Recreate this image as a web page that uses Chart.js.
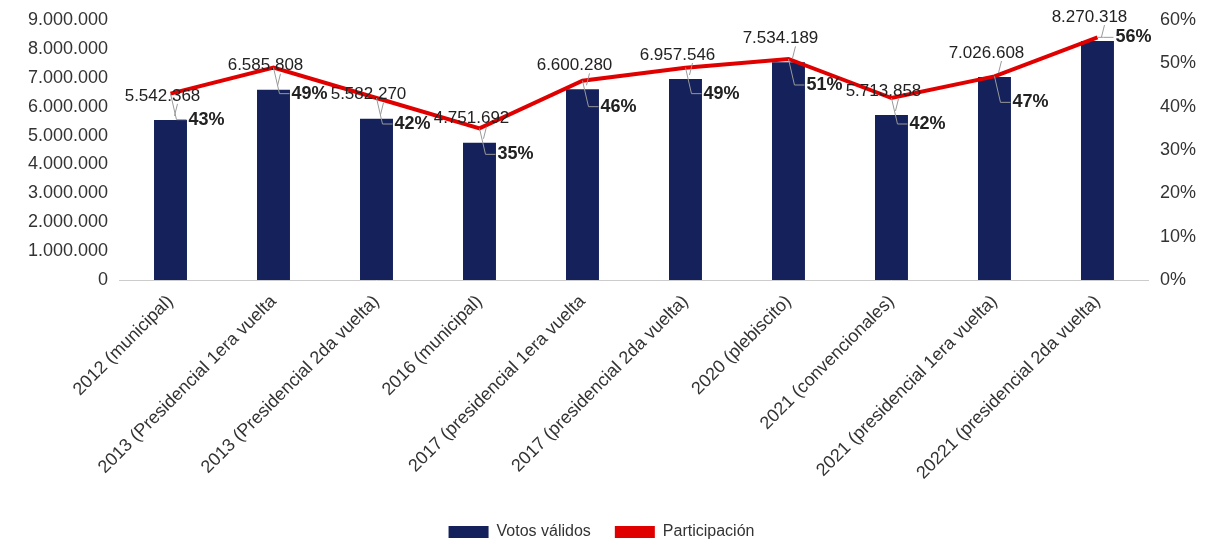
<!DOCTYPE html>
<html>
<head>
<meta charset="utf-8">
<script src="https://cdn.jsdelivr.net/npm/chart.js@4"></script>
<style>
  html, body { margin: 0; padding: 0; background: #fff; }
  #wrap { width: 1213px; height: 554px; }
</style>
</head>
<body>
<div id="wrap"><canvas id="chart"></canvas></div>
<script>
const categories = [
    '2012 (municipal)',
    '2013 (Presidencial 1era vuelta',
    '2013 (Presidencial 2da vuelta)',
    '2016 (municipal)',
    '2017 (presidencial 1era vuelta',
    '2017 (presidencial 2da vuelta)',
    '2020 (plebiscito)',
    '2021 (convencionales)',
    '2021 (presidencial 1era vuelta)',
    '20221 (presidencial 2da vuelta)'
];
const votosValidos = [5542368, 6585808, 5582270, 4751692, 6600280, 6957546, 7534189, 5713858, 7026608, 8270318];
const participacion = [43, 49, 42, 35, 46, 49, 51, 42, 47, 56];

const fmt = n => n.toString().replace(/\B(?=(\d{3})+(?!\d))/g, '.');

// etiquetas de datos con líneas guía
const labelPlugin = {
    id: 'labels',
    afterDatasetsDraw(chart) {
        const ctx = chart.ctx;
        const bars = chart.getDatasetMeta(0).data;
        const pts = chart.getDatasetMeta(1).data;
        ctx.save();
        bars.forEach((bar, i) => {
            const tx = bar.x - 8, ty = bar.y - 24;
            ctx.strokeStyle = '#999';
            ctx.lineWidth = 1;
            ctx.beginPath();
            ctx.moveTo(tx + 15, ty + 8);
            ctx.lineTo(bar.x + 4, bar.y - 4);
            ctx.stroke();
            ctx.font = '17px "Liberation Sans", Arial';
            ctx.fillStyle = '#222';
            ctx.textAlign = 'center';
            ctx.textBaseline = 'middle';
            ctx.fillText(fmt(votosValidos[i]), tx, ty);
        });
        pts.forEach((p, i) => {
            const last = i === pts.length - 1;
            const dy = last ? 0 : 26;
            ctx.strokeStyle = '#999';
            ctx.beginPath();
            ctx.moveTo(p.x, p.y);
            ctx.lineTo(p.x + 6, p.y + dy);
            ctx.lineTo(p.x + 16, p.y + dy);
            ctx.stroke();
            ctx.font = 'bold 18px "Liberation Sans", Arial';
            ctx.fillStyle = '#222';
            ctx.textAlign = 'left';
            ctx.textBaseline = 'middle';
            ctx.fillText(participacion[i] + '%', p.x + 18, p.y + dy);
        });
        ctx.restore();
    }
};

new Chart(document.getElementById('chart').getContext('2d'), {
    type: 'bar',
    data: {
        labels: categories,
        datasets: [{
            label: 'Votos válidos',
            data: votosValidos,
            backgroundColor: '#14215a',
            barPercentage: 0.32,
            categoryPercentage: 1,
            yAxisID: 'y',
            order: 2
        }, {
            type: 'line',
            label: 'Participación',
            data: participacion,
            borderColor: '#e00000',
            backgroundColor: '#e00000',
            borderWidth: 4,
            pointRadius: 0,
            tension: 0,
            yAxisID: 'y1',
            order: 1
        }]
    },
    options: {
        responsive: true,
        maintainAspectRatio: false,
        animation: false,
        layout: { padding: { top: 20, left: 4, right: 14, bottom: 4 } },
        plugins: {
            tooltip: { enabled: false },
            legend: {
                position: 'bottom',
                labels: {
                    font: { family: '"Liberation Sans", Arial', size: 16 },
                    color: '#333',
                    boxWidth: 40,
                    boxHeight: 12,
                    padding: 24,
                    sort: (a, b) => a.datasetIndex - b.datasetIndex,
                    generateLabels: chart => {
                        const items = Chart.defaults.plugins.legend.labels.generateLabels(chart);
                        items.forEach(it => { if (it.datasetIndex === 1) { it.lineWidth = 0; } });
                        return items;
                    }
                }
            }
        },
        scales: {
            x: {
                grid: { display: false },
                border: { color: '#ccc' },
                afterFit: s => { s.height = 220; },
                ticks: {
                    maxRotation: 45,
                    minRotation: 45,
                    color: '#333',
                    font: { family: '"Liberation Sans", Arial', size: 18 }
                }
            },
            y: {
                min: 0,
                max: 9000000,
                grid: { display: false },
                border: { display: false },
                afterFit: s => { s.width = 115; },
                ticks: {
                    stepSize: 1000000,
                    color: '#333',
                    font: { family: '"Liberation Sans", Arial', size: 18 },
                    callback: v => fmt(v)
                }
            },
            y1: {
                position: 'right',
                min: 0,
                max: 60,
                grid: { display: false },
                border: { display: false },
                ticks: {
                    stepSize: 10,
                    color: '#333',
                    font: { family: '"Liberation Sans", Arial', size: 18 },
                    callback: v => v + '%'
                }
            }
        }
    },
    plugins: [labelPlugin]
});
</script>
</body>
</html>
